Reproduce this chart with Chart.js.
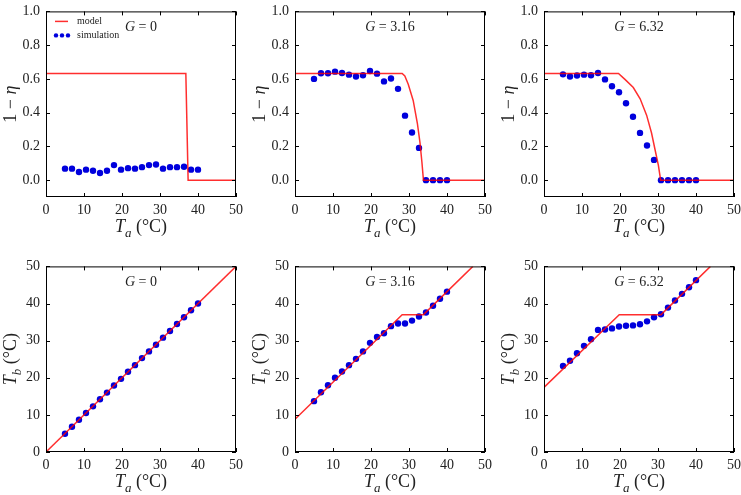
<!DOCTYPE html>
<html>
<head>
<meta charset="utf-8">
<script src="https://cdn.jsdelivr.net/npm/chart.js@4.4.0/dist/chart.umd.min.js"></script>
<style>
  body { margin: 0; width: 741px; height: 495px; overflow: hidden; background: #fff; position: relative; }
  canvas { position: absolute; }
</style>
</head>
<body>
<canvas id="effG0"></canvas>
<canvas id="effG316"></canvas>
<canvas id="effG632"></canvas>
<canvas id="tbG0"></canvas>
<canvas id="tbG316"></canvas>
<canvas id="tbG632"></canvas>
<script>
// simulation ambient temperatures (same for every panel)
const simTa = [5, 6.84, 8.68, 10.53, 12.37, 14.21, 16.05, 17.89, 19.74, 21.58, 23.42, 25.26, 27.11, 28.95, 30.79, 32.63, 34.47, 36.32, 38.16, 40];

// top row: 1 - eta
const effSimG0 = [0.068, 0.068, 0.048, 0.062, 0.056, 0.042, 0.056, 0.089, 0.062, 0.071, 0.068, 0.077, 0.089, 0.093, 0.068, 0.077, 0.077, 0.079, 0.062, 0.062];
const effSimG316 = [0.600, 0.633, 0.633, 0.643, 0.635, 0.625, 0.614, 0.622, 0.647, 0.631, 0.585, 0.602, 0.541, 0.382, 0.282, 0.191, 0, 0, 0, 0];
const effSimG632 = [0.627, 0.614, 0.620, 0.625, 0.622, 0.635, 0.597, 0.556, 0.521, 0.456, 0.376, 0.280, 0.205, 0.120, 0, 0, 0, 0, 0, 0];

const effModelTaG0 = [0, 36.8, 37.4, 50];
const effModelG0 = [0.632, 0.632, 0, 0];
const effModelTaG316 = [0, 28.2, 28.9, 29.8, 31.1, 32.2, 32.9, 33.4, 33.8, 50];
const effModelG316 = [0.632, 0.632, 0.617, 0.568, 0.472, 0.337, 0.221, 0.106, 0, 0];
const effModelTaG632 = [0, 19.6, 21.3, 23.5, 25.3, 27.0, 28.3, 29.2, 30.1, 30.7, 50];
const effModelG632 = [0.632, 0.632, 0.597, 0.549, 0.482, 0.385, 0.279, 0.183, 0.087, 0, 0];

// bottom row: Tb
const tbSimG0 = [4.9, 6.8, 8.7, 10.5, 12.3, 14.2, 16.0, 17.9, 19.7, 21.6, 23.4, 25.3, 27.1, 28.9, 30.8, 32.6, 34.5, 36.3, 38.2, 40.0];
const tbSimG316 = [13.7, 16.1, 18.0, 20.0, 21.7, 23.4, 25.1, 27.1, 29.4, 31.0, 32.0, 33.9, 34.6, 34.6, 35.4, 36.5, 37.6, 39.4, 41.3, 43.2];
const tbSimG632 = [23.2, 24.6, 26.6, 28.6, 30.4, 32.9, 33.0, 33.3, 33.8, 34.0, 34.1, 34.4, 35.2, 36.3, 37.1, 38.9, 40.8, 42.6, 44.4, 46.3];

const tbModelTaG0 = [0, 50];
const tbModelG0 = [0, 50];
const tbModelTaG316 = [0, 28.2, 33.8, 46.8];
const tbModelG316 = [8.8, 37.0, 37.0, 50];
const tbModelTaG632 = [0, 19.8, 30.8, 43.8];
const tbModelG632 = [17.4, 37.0, 37.0, 50];

const taTicks = [0, 10, 20, 30, 40, 50];
const effTicks = [0, 0.2, 0.4, 0.6, 0.8, 1.0];
const tbTicks = [0, 10, 20, 30, 40, 50];
const gLabels = ['0', '3.16', '6.32'];

const serif = '"Liberation Serif", "DejaVu Serif", serif';
const plotLefts = [46, 295, 544];
const plotTops = [7, 262];
const plotSize = 190;

function toPoints(xs, ys) {
    return xs.map((x, i) => ({ x: x, y: ys[i] }));
}

function fontFor(style, size) {
    if (style === 'i') return `italic ${size}px ${serif}`;
    if (style === 'sub') return `italic ${Math.round(size * 0.7)}px ${serif}`;
    return `${size}px ${serif}`;
}

// draws text made of pieces [text, style] centred on x
function drawRich(ctx, parts, x, y, size) {
    let w = 0;
    parts.forEach(p => { ctx.font = fontFor(p[1], size); w += ctx.measureText(p[0]).width; });
    let cx = x - w / 2;
    parts.forEach(p => {
        ctx.font = fontFor(p[1], size);
        ctx.fillText(p[0], cx, y + (p[1] === 'sub' ? size * 0.25 : 0));
        cx += ctx.measureText(p[0]).width;
    });
}

function framePlugin(panel) {
    return {
        id: 'frame',
        afterDraw(chart) {
            const ctx = chart.ctx;
            const a = chart.chartArea;
            const xs = chart.scales.x;
            const ys = chart.scales.y;
            ctx.save();
            ctx.strokeStyle = '#000';
            ctx.lineWidth = 1;
            ctx.strokeRect(a.left + 0.5, a.top + 0.5, a.right - a.left - 1, a.bottom - a.top - 1);

            // inward ticks on all four sides
            ctx.beginPath();
            taTicks.forEach(v => {
                const px = Math.round(xs.getPixelForValue(v)) + 0.5;
                ctx.moveTo(px, a.bottom); ctx.lineTo(px, a.bottom - 4);
                ctx.moveTo(px, a.top); ctx.lineTo(px, a.top + 4);
            });
            panel.yTicks.forEach(v => {
                const py = Math.round(ys.getPixelForValue(v)) + 0.5;
                ctx.moveTo(a.left, py); ctx.lineTo(a.left + 4, py);
                ctx.moveTo(a.right, py); ctx.lineTo(a.right - 4, py);
            });
            ctx.stroke();

            ctx.fillStyle = '#222';
            ctx.textBaseline = 'alphabetic';
            const cx = (a.left + a.right) / 2;
            drawRich(ctx, [['G', 'i'], [' = ' + panel.g, '']], cx, a.top + 20, 14);
            drawRich(ctx, [['T', 'i'], ['a', 'sub'], [' (°C)', '']], cx, a.bottom + 35, 18);

            ctx.save();
            ctx.translate(a.left - 30, (a.top + a.bottom) / 2);
            ctx.rotate(-Math.PI / 2);
            drawRich(ctx, panel.yTitle, 0, 0, 18);
            ctx.restore();

            if (panel.legend) {
                const model = chart.data.datasets[0];
                const sim = chart.data.datasets[1];
                ctx.strokeStyle = model.borderColor;
                ctx.lineWidth = 1.5;
                ctx.beginPath();
                ctx.moveTo(a.left + 9, a.top + 10);
                ctx.lineTo(a.left + 22, a.top + 10);
                ctx.stroke();
                ctx.fillStyle = sim.backgroundColor;
                [10, 16, 22].forEach(dx => {
                    ctx.beginPath();
                    ctx.arc(a.left + dx, a.top + 24, 2.2, 0, Math.PI * 2);
                    ctx.fill();
                });
                ctx.fillStyle = '#222';
                ctx.font = `10px ${serif}`;
                ctx.textAlign = 'left';
                ctx.fillText('model', a.left + 31, a.top + 13);
                ctx.fillText('simulation', a.left + 31, a.top + 27);
            }
            ctx.restore();
        }
    };
}

function renderPanel(id, col, row, modelPts, simPts, panel) {
    const canvas = document.getElementById(id);
    const padTop = 10;
    const xAxisH = row === 0 ? 50 : 45;
    canvas.width = 248;
    canvas.height = padTop + plotSize + xAxisH;
    canvas.style.left = (plotLefts[col] - 46) + 'px';
    canvas.style.top = (plotTops[row] - padTop) + 'px';

    new Chart(canvas.getContext('2d'), {
        type: 'scatter',
        data: {
            datasets: [
                {
                    label: 'model',
                    data: modelPts,
                    showLine: true,
                    borderColor: 'rgba(255, 0, 0, 0.82)',
                    borderWidth: 1.5,
                    pointRadius: 0,
                    tension: 0,
                },
                {
                    label: 'simulation',
                    data: simPts,
                    backgroundColor: '#0000dd',
                    borderWidth: 0,
                    pointRadius: 3.2,
                },
            ],
        },
        options: {
            responsive: false,
            animation: false,
            devicePixelRatio: 1,
            layout: { padding: { top: padTop, right: 12, left: 0, bottom: 0 } },
            plugins: { legend: { display: false }, tooltip: { enabled: false } },
            scales: {
                x: {
                    type: 'linear',
                    min: 0,
                    max: 50,
                    afterBuildTicks: s => { s.ticks = taTicks.map(v => ({ value: v })); },
                    afterFit: s => { s.height = xAxisH; },
                    grid: { display: false, drawTicks: false },
                    border: { display: false },
                    ticks: {
                        padding: 5,
                        color: '#222',
                        maxRotation: 0,
                        autoSkip: false,
                        font: { family: serif, size: 14 },
                        callback: v => String(v),
                    },
                },
                y: {
                    type: 'linear',
                    min: panel.yMin,
                    max: panel.yMax,
                    afterBuildTicks: s => { s.ticks = panel.yTicks.map(v => ({ value: v })); },
                    afterFit: s => { s.width = 46; },
                    grid: { display: false, drawTicks: false },
                    border: { display: false },
                    ticks: {
                        padding: 6,
                        color: '#222',
                        autoSkip: false,
                        font: { family: serif, size: 14 },
                        callback: v => v.toFixed(panel.digits),
                    },
                },
            },
        },
        plugins: [framePlugin(panel)],
    });
}

const effTitle = [['1 − ', ''], ['η', 'i']];
const tbTitle = [['T', 'i'], ['b', 'sub'], [' (°C)', '']];

renderPanel('effG0', 0, 0, toPoints(effModelTaG0, effModelG0), toPoints(simTa, effSimG0),
    { g: gLabels[0], yMin: -0.1, yMax: 1.0, yTicks: effTicks, digits: 1, yTitle: effTitle, legend: true });
renderPanel('effG316', 1, 0, toPoints(effModelTaG316, effModelG316), toPoints(simTa, effSimG316),
    { g: gLabels[1], yMin: -0.1, yMax: 1.0, yTicks: effTicks, digits: 1, yTitle: effTitle });
renderPanel('effG632', 2, 0, toPoints(effModelTaG632, effModelG632), toPoints(simTa, effSimG632),
    { g: gLabels[2], yMin: -0.1, yMax: 1.0, yTicks: effTicks, digits: 1, yTitle: effTitle });

renderPanel('tbG0', 0, 1, toPoints(tbModelTaG0, tbModelG0), toPoints(simTa, tbSimG0),
    { g: gLabels[0], yMin: 0, yMax: 50, yTicks: tbTicks, digits: 0, yTitle: tbTitle });
renderPanel('tbG316', 1, 1, toPoints(tbModelTaG316, tbModelG316), toPoints(simTa, tbSimG316),
    { g: gLabels[1], yMin: 0, yMax: 50, yTicks: tbTicks, digits: 0, yTitle: tbTitle });
renderPanel('tbG632', 2, 1, toPoints(tbModelTaG632, tbModelG632), toPoints(simTa, tbSimG632),
    { g: gLabels[2], yMin: 0, yMax: 50, yTicks: tbTicks, digits: 0, yTitle: tbTitle });
</script>
</body>
</html>
